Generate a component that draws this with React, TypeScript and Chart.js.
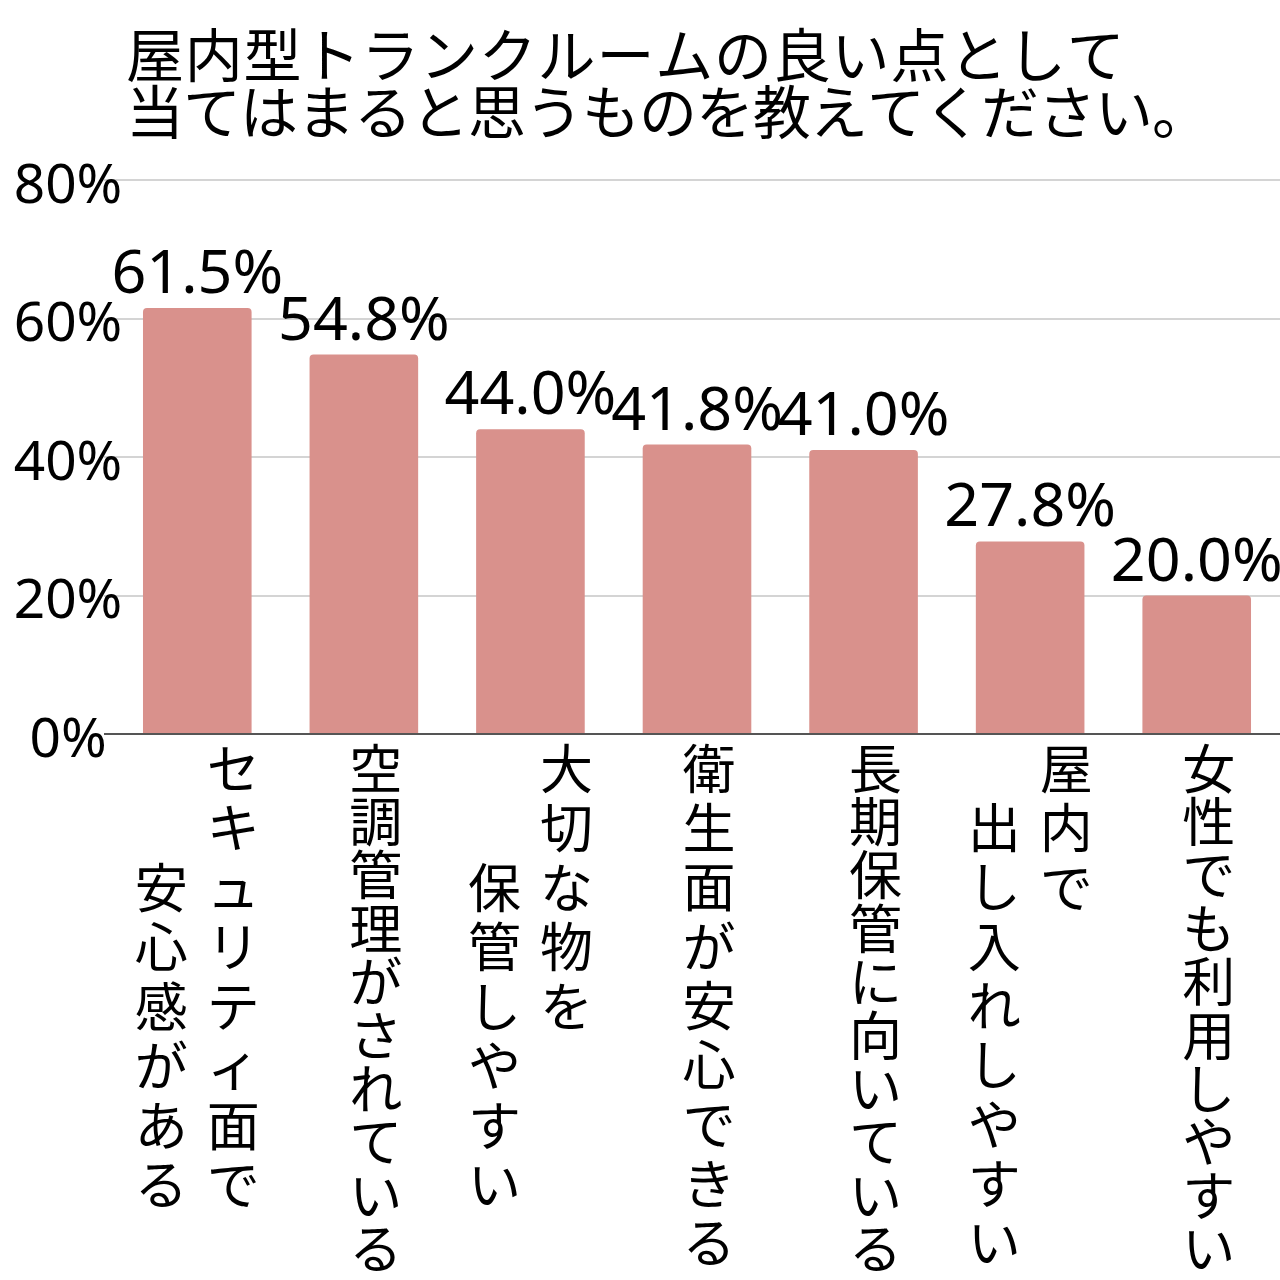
import React, { useEffect, useRef } from "react";
import { Chart, registerables } from "chart.js";

Chart.register(...registerables);

const titleLines = [
  "屋内型トランクルームの良い点として",
  "当てはまると思うものを教えてください。",
];

const categories = [
  "セキュリティ面で\n　　安心感がある",
  "空調管理がされている",
  "大切な物を\n　　保管しやすい",
  "衛生面が安心できる",
  "長期保管に向いている",
  "屋内で\n　出し入れしやすい",
  "女性でも利用しやすい",
];

const values = [61.5, 54.8, 44.0, 41.8, 41.0, 27.8, 20.0];

const yTicks = [0, 20, 40, 60, 80];

const CJK_FONT = '"Noto Sans CJK JP", "Noto Sans", sans-serif';
const NUM_FONT = '"Noto Sans", "Open Sans", sans-serif';
const BAR_COLOR = "rgb(217,145,140)";
const Y_AXIS_WIDTH = 114;
const Y_LABEL_CENTER = 68;
const Y_TICK_SIZE = 55;
const TITLE_SPACING = ["0.8px", "-1px"];

const fmtTick = (v: number) => v + "%";

function measureWidest(): number {
  const c = document.createElement("canvas");
  const ctx = c.getContext("2d");
  if (!ctx) return 110;
  ctx.font = `normal ${Y_TICK_SIZE}px ${NUM_FONT}`;
  return Math.max(...yTicks.map((v) => ctx.measureText(fmtTick(v)).width));
}

const titlePlugin = {
  id: "customTitle",
  afterDraw(chart: any) {
    const ctx = chart.ctx;
    ctx.save();
    ctx.fillStyle = "#000";
    ctx.font = `58px ${CJK_FONT}`;
    ctx.textAlign = "left";
    ctx.textBaseline = "alphabetic";
    titleLines.forEach((line, i) => {
      if ("letterSpacing" in ctx) (ctx as any).letterSpacing = TITLE_SPACING[i];
      ctx.fillText(line, 126, 77 + i * 57);
    });
    ctx.restore();
  },
};

const valueLabelPlugin = {
  id: "valueLabels",
  afterDatasetsDraw(chart: any) {
    const ctx = chart.ctx;
    const meta = chart.getDatasetMeta(0);
    ctx.save();
    ctx.fillStyle = "#000";
    ctx.font = `61px ${NUM_FONT}`;
    ctx.textAlign = "center";
    ctx.textBaseline = "alphabetic";
    meta.data.forEach((el: any, i: number) => {
      ctx.fillText(values[i].toFixed(1) + "%", el.x, el.y - 15);
    });
    ctx.restore();
  },
};

const verticalLabelPlugin = {
  id: "verticalLabels",
  afterDraw(chart: any) {
    const ctx = chart.ctx;
    const xScale = chart.scales.x;
    const size = 53;
    const emTop = chart.chartArea.bottom + 8;
    const maxBottom = chart.height - 4;
    ctx.save();
    ctx.fillStyle = "#000";
    ctx.font = `${size}px ${CJK_FONT}`;
    ctx.textAlign = "center";
    ctx.textBaseline = "alphabetic";
    categories.forEach((label, i) => {
      const cx = xScale.getPixelForValue(i);
      const cols = label.split("\n");
      const offsets = cols.length === 1 ? [12] : cols.map((_, k) => 36 - 72 * k);
      cols.forEach((col, k) => {
        const chars = Array.from(col);
        const pitch = Math.min(59.5, (maxBottom - emTop) / chars.length);
        chars.forEach((ch, j) => {
          const y = emTop + pitch * j + size * 0.88;
          ctx.fillText(ch, cx + offsets[k], y);
        });
      });
    });
    ctx.restore();
  },
};

export default function App() {
  const canvasRef = useRef<HTMLCanvasElement | null>(null);

  useEffect(() => {
    if (!canvasRef.current) return;
    const widest = measureWidest();
    const tickPadding = Y_LABEL_CENTER - Y_AXIS_WIDTH - widest / 2;
    const chart = new Chart(canvasRef.current, {
      type: "bar",
      data: {
        labels: categories,
        datasets: [
          {
            data: values,
            backgroundColor: BAR_COLOR,
            borderRadius: { topLeft: 4, topRight: 4, bottomLeft: 0, bottomRight: 0 },
            borderSkipped: "bottom",
            barPercentage: 0.652,
            categoryPercentage: 1,
          },
        ],
      },
      options: {
        animation: false,
        responsive: false,
        devicePixelRatio: 1,
        layout: { padding: { top: 180, bottom: 546, left: 0, right: 0 } },
        plugins: {
          legend: { display: false },
          title: { display: false },
          tooltip: { enabled: false },
        },
        scales: {
          x: { display: false },
          y: {
            min: 0,
            max: 80,
            afterBuildTicks: (s: any) => {
              s.ticks = yTicks.map((v) => ({ value: v }));
            },
            afterFit: (s: any) => {
              s.width = Y_AXIS_WIDTH;
            },
            border: { display: false },
            grid: {
              color: (c: any) => (c.tick && c.tick.value === 0 ? "#555" : "#d4d4d4"),
              lineWidth: 2,
              tickLength: 10,
              drawTicks: true,
            },
            ticks: {
              callback: (v: any) => fmtTick(v),
              font: { size: Y_TICK_SIZE, family: NUM_FONT },
              color: "#000",
              mirror: true,
              crossAlign: "center",
              padding: tickPadding,
              labelOffset: 7,
            },
          },
        },
      },
      plugins: [titlePlugin, valueLabelPlugin, verticalLabelPlugin],
    } as any);
    return () => chart.destroy();
  }, []);

  return (
    <div style={{ position: "absolute", left: 0, top: 0, width: 1280, height: 1280, background: "#fff" }}>
      <canvas ref={canvasRef} width={1280} height={1280} style={{ width: 1280, height: 1280 }} />
    </div>
  );
}
